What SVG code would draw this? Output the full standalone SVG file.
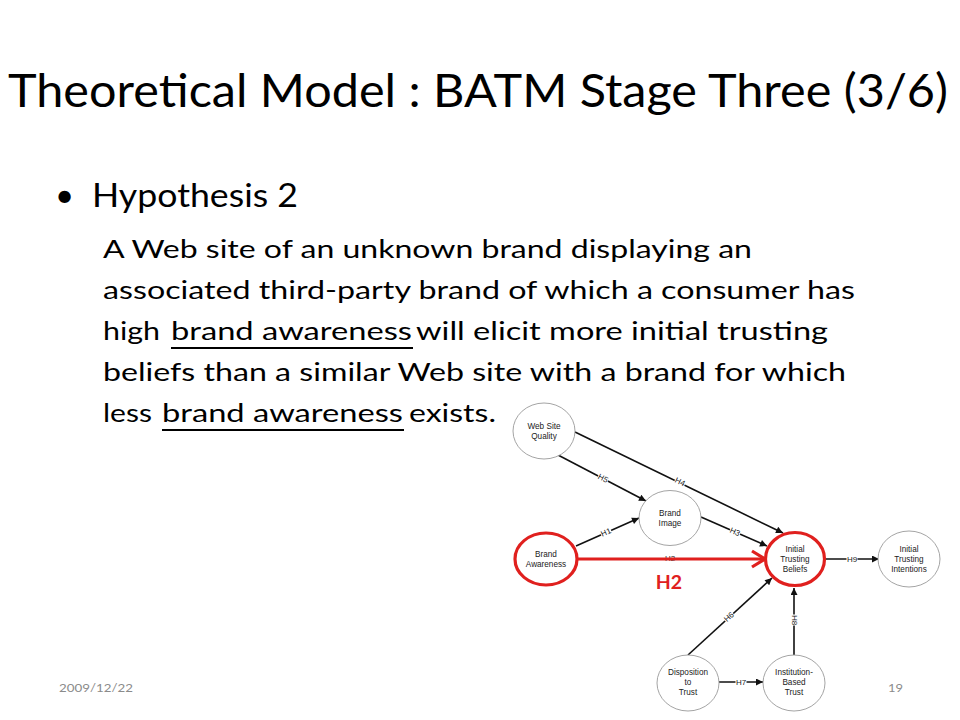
<svg xmlns="http://www.w3.org/2000/svg" width="960" height="720" viewBox="0 0 960 720">
<style>
.t{font-family:Lato,"Open Sans","Liberation Sans",sans-serif;fill:#000}
.body{font-size:25.5px}
.node ellipse{fill:#fff;stroke:#9a9a9a;stroke-width:0.9}
.node ellipse.hl{stroke:#e0201e;stroke-width:3.2}
.node text{font-family:"Liberation Sans",Arial,sans-serif;font-size:8.2px;fill:#222;text-anchor:middle}
.edge{stroke:#111;stroke-width:1.6;fill:none}
.lbl{font-family:"Liberation Sans",Arial,sans-serif;font-size:8px;fill:#222;text-anchor:middle;dominant-baseline:central}
.lb{fill:#fff}
</style>
<defs>
<marker id="ah" viewBox="0 0 10 10" refX="10" refY="5" markerWidth="9" markerHeight="7" markerUnits="userSpaceOnUse" orient="auto">
<path d="M0,0 L10,5 L0,10 z" fill="#111"/>
</marker>
</defs>
<rect width="960" height="720" fill="#fff"/>

<text class="t" x="8" y="107" font-size="47" textLength="940" lengthAdjust="spacingAndGlyphs">Theoretical Model : BATM Stage Three (3/6)</text>

<text class="t" x="55" y="207" font-size="33">•</text>
<text class="t" x="92" y="207" font-size="33" textLength="206" lengthAdjust="spacingAndGlyphs">Hypothesis 2</text>

<text class="t body" x="103" y="258" textLength="649" lengthAdjust="spacingAndGlyphs">A Web site of an unknown brand displaying an</text>
<text class="t body" x="103" y="299" textLength="752" lengthAdjust="spacingAndGlyphs">associated third-party brand of which a consumer has</text>
<text class="t body" x="103" y="340" textLength="57" lengthAdjust="spacingAndGlyphs">high</text>
<text class="t body" x="171" y="340" textLength="241" lengthAdjust="spacingAndGlyphs">brand awareness</text>
<text class="t body" x="416" y="340" textLength="412" lengthAdjust="spacingAndGlyphs">will elicit more initial trusting</text>
<text class="t body" x="103" y="381" textLength="743" lengthAdjust="spacingAndGlyphs">beliefs than a similar Web site with a brand for which</text>
<text class="t body" x="103" y="422" textLength="49" lengthAdjust="spacingAndGlyphs">less</text>
<text class="t body" x="162" y="422" textLength="241" lengthAdjust="spacingAndGlyphs">brand awareness</text>
<text class="t body" x="409" y="422" textLength="87" lengthAdjust="spacingAndGlyphs">exists.</text>
<line x1="171" y1="348" x2="413" y2="348" stroke="#000" stroke-width="2"/>
<line x1="162" y1="430" x2="404" y2="430" stroke="#000" stroke-width="2"/>

<g id="connectors">
<line class="edge" x1="575" y1="432" x2="783" y2="533" marker-end="url(#ah)"/>
<line class="edge" x1="558" y1="455" x2="646" y2="501" marker-end="url(#ah)"/>
<line class="edge" x1="576" y1="546" x2="639" y2="518" marker-end="url(#ah)"/>
<line class="edge" x1="701" y1="517" x2="767" y2="546" marker-end="url(#ah)"/>
<line class="edge" x1="826" y1="559" x2="879" y2="559" marker-end="url(#ah)"/>
<line class="edge" x1="688" y1="655" x2="772" y2="578" marker-end="url(#ah)"/>
<line class="edge" x1="719" y1="682" x2="763" y2="682" marker-end="url(#ah)"/>
<line class="edge" x1="794" y1="655" x2="794" y2="588" marker-end="url(#ah)"/>

<g transform="translate(680,482) rotate(25.9)"><rect class="lb" x="-5.5" y="-3.5" width="11" height="7"/><text class="lbl" x="0" y="0">H4</text></g>
<g transform="translate(603,478.5) rotate(27.6)"><rect class="lb" x="-5.5" y="-3.5" width="11" height="7"/><text class="lbl" x="0" y="0">H5</text></g>
<g transform="translate(606,532.5) rotate(-24)"><rect class="lb" x="-5.5" y="-3.5" width="11" height="7"/><text class="lbl" x="0" y="0">H1</text></g>
<g transform="translate(735,532) rotate(23.7)"><rect class="lb" x="-5.5" y="-3.5" width="11" height="7"/><text class="lbl" x="0" y="0">H3</text></g>
<g transform="translate(852,559)"><rect class="lb" x="-5.5" y="-3.5" width="11" height="7"/><text class="lbl" x="0" y="0">H9</text></g>
<g transform="translate(729,617) rotate(-42.5)"><rect class="lb" x="-5.5" y="-3.5" width="11" height="7"/><text class="lbl" x="0" y="0">H6</text></g>
<g transform="translate(741,682)"><rect class="lb" x="-5.5" y="-3.5" width="11" height="7"/><text class="lbl" x="0" y="0">H7</text></g>
<g transform="translate(794,620) rotate(90)"><rect class="lb" x="-5.5" y="-3.5" width="11" height="7"/><text class="lbl" x="0" y="0">H8</text></g>

<text class="lbl" x="670" y="558">H2</text>
<line x1="578" y1="559" x2="764" y2="559" stroke="#e0201e" stroke-width="3.2"/>
<polyline points="752,551 765,559 752,567" fill="none" stroke="#e0201e" stroke-width="3.2" stroke-linejoin="miter"/>
</g>

<text x="669" y="589" font-family="Lato,'Open Sans',sans-serif" font-weight="bold" font-size="19.5" fill="#e0201e" text-anchor="middle">H2</text>

<g id="web-site-quality" class="node">
<ellipse cx="544" cy="431" rx="31" ry="28"/>
<text x="544" y="429">Web Site</text><text x="544" y="439">Quality</text>
</g>
<g id="brand-image" class="node">
<ellipse cx="670" cy="518" rx="31" ry="27.5"/>
<text x="670" y="516">Brand</text><text x="670" y="526">Image</text>
</g>
<g id="brand-awareness" class="node">
<ellipse class="hl" cx="546" cy="559" rx="31" ry="26"/>
<text x="546" y="557">Brand</text><text x="546" y="567">Awareness</text>
</g>
<g id="initial-trusting-beliefs" class="node">
<ellipse class="hl" cx="795" cy="559" rx="29.5" ry="26.5"/>
<text x="795" y="552">Initial</text><text x="795" y="562">Trusting</text><text x="795" y="571.5">Beliefs</text>
</g>
<g id="initial-trusting-intentions" class="node">
<ellipse cx="909" cy="559" rx="31" ry="28"/>
<text x="909" y="552">Initial</text><text x="909" y="562">Trusting</text><text x="909" y="571.5">Intentions</text>
</g>
<g id="disposition-to-trust" class="node">
<ellipse cx="688" cy="683" rx="31" ry="28"/>
<text x="688" y="675">Disposition</text><text x="688" y="685">to</text><text x="688" y="695">Trust</text>
</g>
<g id="institution-based-trust" class="node">
<ellipse cx="794" cy="683" rx="31" ry="28"/>
<text x="794" y="675">Institution-</text><text x="794" y="685">Based</text><text x="794" y="695">Trust</text>
</g>

<text x="59" y="692" font-family="Lato,'Open Sans',sans-serif" font-size="12" fill="#8b8b8b" textLength="74" lengthAdjust="spacingAndGlyphs">2009/12/22</text>
<text x="888" y="692" font-family="Lato,'Open Sans',sans-serif" font-size="12" fill="#8b8b8b" textLength="15" lengthAdjust="spacingAndGlyphs">19</text>
</svg>
